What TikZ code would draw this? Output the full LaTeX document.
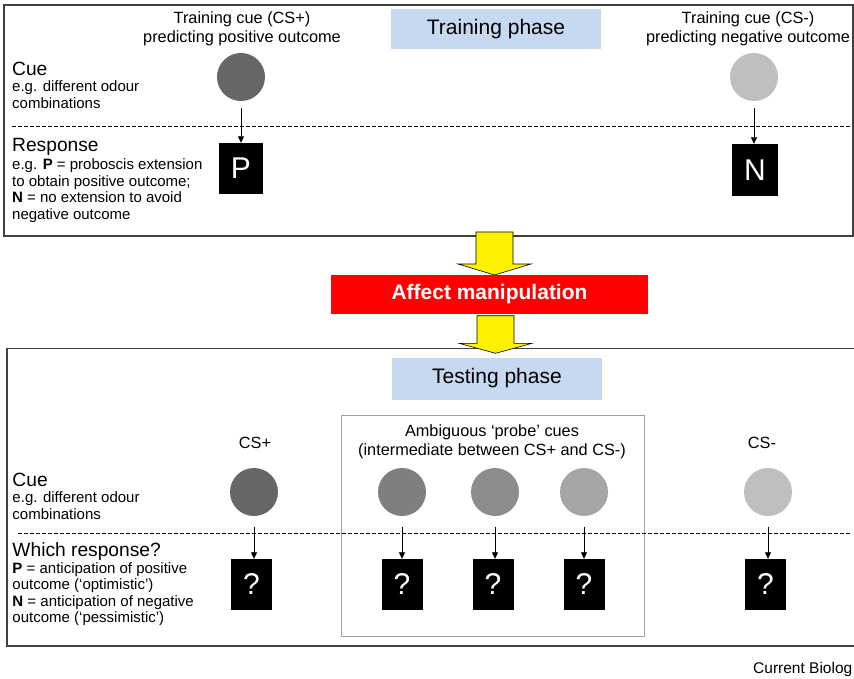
\documentclass[tikz,border=0pt]{standalone}
\usepackage{fontspec}
\setmainfont{Liberation Sans}
\usetikzlibrary{arrows.meta}
\definecolor{phaseblue}{HTML}{C6D9F1}
\definecolor{gA}{HTML}{666666}
\definecolor{gB}{HTML}{7F7F7F}
\definecolor{gC}{HTML}{8C8C8C}
\definecolor{gD}{HTML}{A6A6A6}
\definecolor{gE}{HTML}{BFBFBF}
\definecolor{framegray}{HTML}{404040}
\definecolor{probegray}{HTML}{A0A0A0}
\begin{document}
\begin{tikzpicture}[x=1pt,y=-1pt,
  frame/.style={draw=framegray,line width=1.1pt},
  phase/.style={fill=phaseblue,minimum width=210pt,minimum height=40pt,inner sep=0pt,font=\fontsize{21}{24}\selectfont},
  cue/.style={circle,minimum size=48pt,inner sep=0pt},
  resp/.style={fill=black,text=white,minimum width=41pt,minimum height=51pt,inner sep=0pt,font=\fontsize{30}{32}\selectfont},
  conn/.style={-{Triangle[length=6.5pt,width=6pt]},line width=0.8pt},
  sep/.style={dash pattern=on 3.5pt off 2.5pt,line width=0.7pt},
  big/.style={font=\fontsize{19.2}{22}\selectfont,inner sep=0pt},
  small/.style={font=\fontsize{15}{16.5}\selectfont,align=left,inner sep=0pt},
  head/.style={font=\fontsize{16.3}{18.5}\selectfont,align=center,inner sep=0pt},
  yarrow/.style={fill=yellow,draw=black,line width=0.6pt}]
\useasboundingbox (0,0) rectangle (854,679);

% ---------- Training phase ----------
\draw[frame] (4,5) rectangle (853,236);
\node[phase] (train) at (496,29) {Training phase};
% base anchor = baseline of the last line
\node[head,anchor=base] (hplus) at (242,42.5) {Training cue (CS+)\\predicting positive outcome};
\node[head,anchor=base] (hminus) at (748,42.5) {Training cue (CS-)\\predicting negative outcome};

\node[cue,fill=gA] (tplus) at (241,77) {};
\node[cue,fill=gE] (tminus) at (754,77) {};
\node[resp,minimum width=44pt] (P) at (241,168.5) {P};
\node[resp,minimum width=46pt,minimum height=52pt] (N) at (755,170) {N};

\draw[sep] (12,126) -- (852,126);

\coordinate (sp) at ([yshift=-7pt]tplus.south);
\coordinate (sm) at ([yshift=-7pt]tminus.south);
\draw[conn] (sp) -- (sp |- P.north);
\draw[conn] (sm) -- (sm |- N.north);

\node[big,anchor=base west] (cueA) at (12,75.7) {Cue};
\node[small,anchor=base west] (cueAd) at (12,108.3) {e.g. different odour\\combinations};
\node[big,anchor=base west] (respA) at (12,151.7) {Response};
\node[small,anchor=base west] (respAd) at (12,219.3) {e.g. \textbf{P} = proboscis extension\\to obtain positive outcome;\\\textbf{N} = no extension to avoid\\negative outcome};

% ---------- Affect manipulation ----------
\draw[yarrow] (476,232) -- (513,232) -- (513,264) -- (531,264) -- (494.5,275) -- (458,264) -- (476,264) -- cycle;
\node[fill=red,minimum width=317pt,minimum height=39pt,inner sep=0pt,text=white,font=\bfseries\fontsize{21}{24}\selectfont] (affect) at (489.5,294.5) {Affect manipulation};

% ---------- Testing phase ----------
\draw[frame] (7,348.5) rectangle (870,646);
\draw[yarrow] (477,315.7) -- (514,315.7) -- (514,343.3) -- (532,343.3) -- (495.5,353.3) -- (459,343.3) -- (477,343.3) -- cycle;
\node[phase,minimum height=42pt] (test) at (497,378.5) {Testing phase};

\draw[draw=probegray,line width=0.9pt] (341,415) rectangle (644,636);
\node[head,anchor=base] (hprobe) at (492,455) {Ambiguous ‘probe’ cues\\(intermediate between CS+ and CS-)};
\node[head,anchor=base] (hcsp) at (255,448) {CS+};
\node[head,anchor=base] (hcsm) at (762,448) {CS-};

\node[cue,fill=gA] (c1) at (254,492) {};
\node[cue,fill=gB] (c2) at (402,492) {};
\node[cue,fill=gC] (c3) at (495,492) {};
\node[cue,fill=gD] (c4) at (584,492) {};
\node[cue,fill=gE] (c5) at (768,492) {};

\node[resp] (q1) at (251.5,584.5) {?};
\node[resp] (q2) at (402,584.5) {?};
\node[resp] (q3) at (493,584.5) {?};
\node[resp] (q4) at (584,584.5) {?};
\node[resp] (q5) at (765.5,584.5) {?};

\draw[sep] (18,533.5) -- (852,533.5);

\foreach \i in {1,...,5}{
  \coordinate (s\i) at ([yshift=-11pt]c\i.south);
  \draw[conn] (s\i) -- (s\i |- q\i.north);
}

\node[big,anchor=base west] (cueB) at (12.3,486.7) {Cue};
\node[small,anchor=base west] (cueBd) at (12.3,519.3) {e.g. different odour\\combinations};
\node[big,anchor=base west] (respB) at (12.3,556.7) {Which response?};
\node[small,anchor=base west] (respBd) at (12.3,622.7) {\textbf{P} = anticipation of positive\\outcome (‘optimistic’)\\\textbf{N} = anticipation of negative\\outcome (‘pessimistic’)};

\node[anchor=base west,inner sep=0pt,font=\fontsize{15.5}{18}\selectfont] (credit) at (753,673) {Current Biolog};
\end{tikzpicture}
\end{document}
